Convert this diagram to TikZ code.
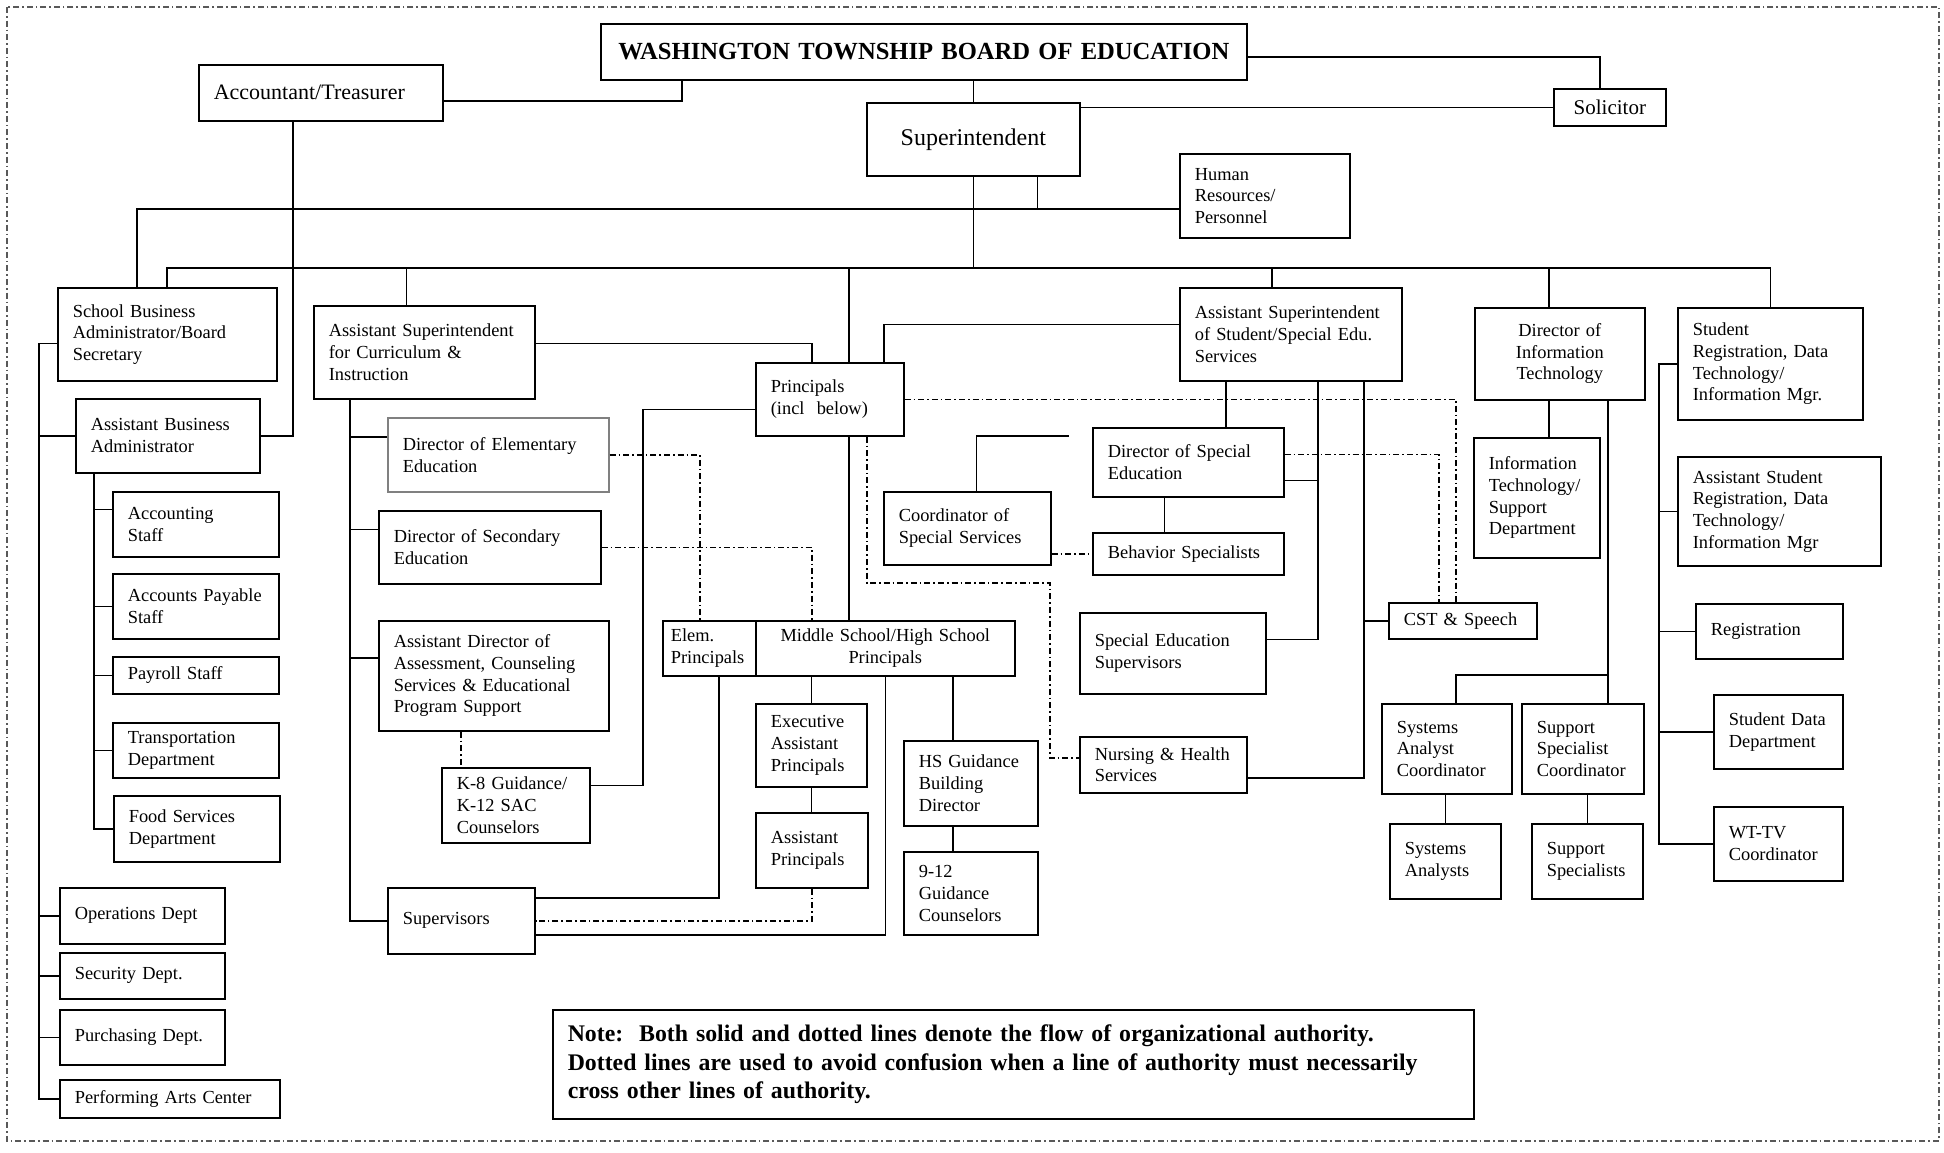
\documentclass[tikz,border=0pt]{standalone}
\usepackage{fontspec}
\setmainfont{Liberation Serif}
\begin{document}
\begin{tikzpicture}[x=0.5pt, y=-0.5pt,
  box/.style={draw, line width=0.8pt, anchor=north west, inner xsep=7.5pt, inner ysep=1pt,
    align=left, font=\fontsize{9.2}{10.85}\selectfont},
  cbox/.style={box, align=center},
  link/.style={line width=0.8pt},
  dotlink/.style={line width=0.8pt, dash pattern=on 3pt off 1.5pt on 0.8pt off 1.5pt}]
\useasboundingbox (0,0) rectangle (1944,1152);
\draw[dotlink, line width=0.6pt, gray!70!black] (7,7) rectangle (1939,1141);
% board and superintendent
\node[cbox, text width=308pt, minimum height=28pt, font=\bfseries\fontsize{12.3}{14}\selectfont] (board) at (600,23) {WASHINGTON TOWNSHIP BOARD OF EDUCATION};
\node[box, text width=107pt, minimum height=28pt, font=\fontsize{11}{13}\selectfont] (acct) at (198,64) {Accountant/Treasurer};
\node[cbox, text width=91.5pt, minimum height=36.5pt, font=\fontsize{12}{14}\selectfont] (supt) at (866,102) {Superintendent};
\node[cbox, text width=41pt, minimum height=18.5pt, font=\fontsize{10.5}{12}\selectfont] (solic) at (1553,88) {Solicitor};
\node[box, text width=70pt, minimum height=42pt] (hr) at (1179,153) {Human\\Resources/\\Personnel};
% second row
\node[box, text width=94.5pt, minimum height=46.5pt] (sba) at (57,287) {School Business\\Administrator/Board\\Secretary};
\node[box, text width=95.5pt, minimum height=46.5pt] (asc) at (313,305) {Assistant Superintendent\\for Curriculum \&\\Instruction};
\node[box, text width=59pt, minimum height=36.5pt] (prin) at (755,362) {Principals\\(incl\ \ below)};
\node[box, text width=96pt, minimum height=46.5pt] (ass) at (1179,287) {Assistant Superintendent\\of Student/Special Edu.\\Services};
\node[cbox, text width=70pt, minimum height=46pt] (dit) at (1474,307) {Director of\\Information\\Technology};
\node[box, text width=77.5pt, minimum height=56pt] (sreg) at (1677,307) {Student\\Registration, Data\\Technology/\\Information Mgr.};
% business column
\node[box, text width=77pt, minimum height=37pt] (aba) at (75,398) {Assistant Business\\Administrator};
\node[box, text width=68pt, minimum height=32.5pt] (acc) at (112,491) {Accounting\\Staff};
\node[box, text width=68pt, minimum height=32.5pt] (ap) at (112,573) {Accounts Payable\\Staff};
\node[box, text width=68pt, minimum height=18.5pt] (pay) at (112,656) {Payroll Staff};
\node[box, text width=68pt, minimum height=27.5pt] (trans) at (112,722) {Transportation\\Department};
\node[box, text width=68pt, minimum height=33pt] (food) at (113,795) {Food Services\\Department};
\node[box, text width=67.5pt, minimum height=28pt] (ops) at (59,887) {Operations Dept};
\node[box, text width=67.5pt, minimum height=23pt] (sec) at (59,952) {Security Dept.};
\node[box, text width=67.5pt, minimum height=27.5pt] (purch) at (59,1009) {Purchasing Dept.};
\node[box, text width=95pt, minimum height=19pt] (pac) at (59,1079) {Performing Arts Center};
% curriculum column
\node[box, draw=gray, text width=95.5pt, minimum height=37pt] (dee) at (387,417) {Director of Elementary\\Education};
\node[box, text width=96pt, minimum height=36.5pt] (dse) at (378,510) {Director of Secondary\\Education};
\node[box, text width=100pt, minimum height=55pt] (ada) at (378,620) {Assistant Director of\\Assessment, Counseling\\Services \& Educational\\Program Support};
\node[box, text width=59pt, minimum height=37.5pt] (k8) at (441,767) {K-8 Guidance/\\K-12 SAC\\Counselors};
\node[box, text width=58.5pt, minimum height=33pt] (sup) at (387,887) {Supervisors};
% principals
\node[box, inner xsep=4pt, text width=38.5pt, minimum height=27.5pt] (elem) at (662,620) {Elem.\\Principals};
\node[cbox, text width=114.5pt, minimum height=27.5pt] (mshs) at (755,620) {Middle School/High School\\Principals};
\node[box, text width=40.5pt, minimum height=41.5pt] (eap) at (755,703) {Executive\\Assistant\\Principals};
\node[box, text width=41pt, minimum height=37.5pt] (apr) at (755,812) {Assistant\\Principals};
\node[box, text width=52pt, minimum height=42.5pt] (hsg) at (903,740) {HS Guidance\\Building\\Director};
\node[box, text width=52pt, minimum height=41.5pt] (gc) at (903,851) {9-12\\Guidance\\Counselors};
% special services
\node[box, text width=68.5pt, minimum height=36.5pt] (css) at (883,491) {Coordinator of\\Special Services};
\node[box, text width=80.5pt, minimum height=34.5pt] (dsped) at (1092,427) {Director of Special\\Education};
\node[box, text width=80.5pt, minimum height=21pt] (beh) at (1092,532) {Behavior Specialists};
\node[box, text width=78pt, minimum height=40.5pt] (sesup) at (1079,612) {Special Education\\Supervisors};
\node[box, text width=68.5pt, minimum height=28pt] (nurse) at (1079,736) {Nursing \& Health\\Services};
\node[box, text width=59pt, minimum height=18pt] (cst) at (1388,602) {CST \& Speech};
% information technology
\node[box, text width=48pt, minimum height=60pt] (itsd) at (1473,437) {Information\\Technology/\\Support\\Department};
\node[box, text width=50pt, minimum height=45pt] (sac) at (1381,703) {Systems\\Analyst\\Coordinator};
\node[box, text width=46pt, minimum height=45pt] (ssc) at (1521,703) {Support\\Specialist\\Coordinator};
\node[box, text width=40.5pt, minimum height=37.5pt] (sa) at (1389,823) {Systems\\Analysts};
\node[box, text width=40.5pt, minimum height=37.5pt] (ss) at (1531,823) {Support\\Specialists};
% registration
\node[box, text width=86.5pt, minimum height=54.5pt] (asreg) at (1677,456) {Assistant Student\\Registration, Data\\Technology/\\Information Mgr};
\node[box, text width=58.5pt, minimum height=27.5pt] (reg) at (1695,603) {Registration};
\node[box, text width=49.5pt, minimum height=37pt] (sdd) at (1713,694) {Student Data\\Department};
\node[box, text width=49.5pt, minimum height=37pt] (wttv) at (1713,806) {WT-TV\\Coordinator};
% note
\node[box, text width=445.5pt, minimum height=54.5pt, font=\bfseries\fontsize{11.9}{14.3}\selectfont] (note) at (552,1009) {Note:\ \ Both solid and dotted lines denote the flow of organizational authority.\\Dotted lines are used to avoid confusion when a line of authority must necessarily\\cross other lines of authority.};
% bus points
\coordinate (hrbus) at (137,209);
\coordinate (mainbus) at (167,268);
\coordinate (leftbus) at (39,343);
\coordinate (abus) at (94,472);
\coordinate (cbus) at (350,398);
\coordinate (kbend) at (643,600);
\coordinate (pbend) at (1050,583);
\coordinate (cssend) at (1069,436);
\coordinate (sbus) at (1318,380);
\coordinate (nbus) at (1364,380);
\coordinate (itbus) at (1607,675);
\coordinate (rbus) at (1659,363);
% top lines
\draw[link] ([xshift=41pt]board.south west) |- ([yshift=-4pt]acct.east);
\draw[link] ([yshift=-2.5pt]board.east) -| ([xshift=-5pt]solic.north);
\draw[link] (supt.north |- board.south) -- (supt.north);
\draw[link] (supt.east |- solic.west) -- (solic.west);
\draw[link] (sba.north -| hrbus) |- (hr.west |- hrbus);
\draw[link] ([xshift=32pt]supt.south) -- ([xshift=32pt]supt.south |- hrbus);
\draw[link] (sba.north -| mainbus) |- (sreg.north |- mainbus) -- (sreg.north);
\draw[link] (supt.south) -- (supt.south |- mainbus);
\draw[link] ([xshift=-9pt]asc.north) -- ([xshift=-9pt]asc.north |- mainbus);
\draw[link] ([xshift=9.5pt]prin.north) -- ([xshift=9.5pt]prin.north |- mainbus);
\draw[link] ([xshift=-9.5pt]ass.north) -- ([xshift=-9.5pt]ass.north |- mainbus);
\draw[link] ([xshift=-5.5pt]dit.north) -- ([xshift=-5.5pt]dit.north |- mainbus);
% business lines
\draw[link] ([xshift=-14pt]acct.south) |- (aba.east);
\draw[link] ([yshift=-4.5pt]sba.west) -| (pac.west -| leftbus) -- (pac.west);
\foreach \n in {aba,ops,sec,purch} \draw[link] (\n.west) -- (\n.west -| leftbus);
\draw[link] (aba.south -| abus) |- (food.west);
\draw[link] ([yshift=7.5pt]acc.west) -- ([yshift=7.5pt]acc.west -| abus);
\foreach \n in {ap,pay,trans} \draw[link] (\n.west) -- (\n.west -| abus);
% curriculum lines
\draw[link] (asc.south -| cbus) |- (sup.west);
\foreach \n in {dee,dse,ada} \draw[link] ([yshift=9pt]\n.west) -- ([yshift=9pt]\n.west -| cbus);
\draw[dotlink] ([xshift=-16.5pt]ada.south) -- ([xshift=-16.5pt]ada.south |- k8.north);
\draw[link] ([yshift=10pt]k8.east) -| (kbend) |- ([yshift=-5pt]prin.west);
\draw[link] ([yshift=4.5pt]asc.east) -| ([xshift=-9pt]prin.north);
\draw[dotlink] (dee.east) -| ([xshift=-4.75pt]elem.north);
\draw[dotlink] (dse.east) -| ([xshift=-36.75pt]mshs.north);
% principals lines
\draw[link] ([xshift=9.5pt]prin.south) -- ([xshift=9.5pt]prin.south |- mshs.north);
\draw[link] ([yshift=5pt]ass.west) -| ([xshift=27pt]prin.north);
\draw[dotlink] ([xshift=18.5pt]prin.south) |- (pbend) |- ([yshift=3.5pt]nurse.west);
\draw[dotlink] (prin.east) -| ([xshift=-3.5pt]cst.north);
\draw[link] ([xshift=4.75pt]elem.south) |- ([yshift=11.5pt]sup.east);
\draw[link] (eap.north) -- (eap.north |- mshs.south);
\draw[link] (eap.south) -- (eap.south |- apr.north);
\draw[dotlink] (apr.south) |- (sup.east);
\draw[link] (mshs.south) |- ([yshift=-7pt]sup.east);
\draw[link] ([xshift=-9pt]hsg.north) -- ([xshift=-9pt]hsg.north |- mshs.south);
\draw[link] ([xshift=-9pt]hsg.south) -- ([xshift=-9pt]hsg.south |- gc.north);
% special services lines
\draw[link] ([xshift=-32.5pt]ass.south) -- ([xshift=-32.5pt]ass.south |- dsped.north);
\draw[link] ([xshift=-12pt]dsped.south) -- ([xshift=-12pt]dsped.south |- beh.north);
\draw[link] (ass.south -| sbus) |- ([yshift=7pt]sesup.east);
\draw[link] ([yshift=-9pt]dsped.east) -- ([yshift=-9pt]dsped.east -| sbus);
\draw[link] (ass.south -| nbus) |- ([yshift=-6.5pt]nurse.east);
\draw[link] (cst.west) -- (cst.west -| nbus);
\draw[dotlink] ([yshift=4pt]dsped.east) -| ([xshift=-12pt]cst.north);
\draw[dotlink] (css.east |- beh.west) -- (beh.west);
\draw[link] ([xshift=4.5pt]css.north) |- (cssend);
% information technology lines
\draw[link] ([xshift=6pt]itsd.north) -- ([xshift=6pt]itsd.north |- dit.south);
\draw[link] ([xshift=24pt]dit.south) -- ([xshift=24pt]dit.south |- ssc.north);
\draw[link] (itbus) -| ([xshift=4.5pt]sac.north);
\draw[link] (sa.north) -- (sa.north |- sac.south);
\draw[link] (ss.north) -- (ss.north |- ssc.south);
% registration lines
\draw[link] (sreg.west) -| (wttv.west -| rbus) -- (wttv.west);
\foreach \n in {asreg,reg,sdd} \draw[link] (\n.west) -- (\n.west -| rbus);
\end{tikzpicture}
\end{document}
